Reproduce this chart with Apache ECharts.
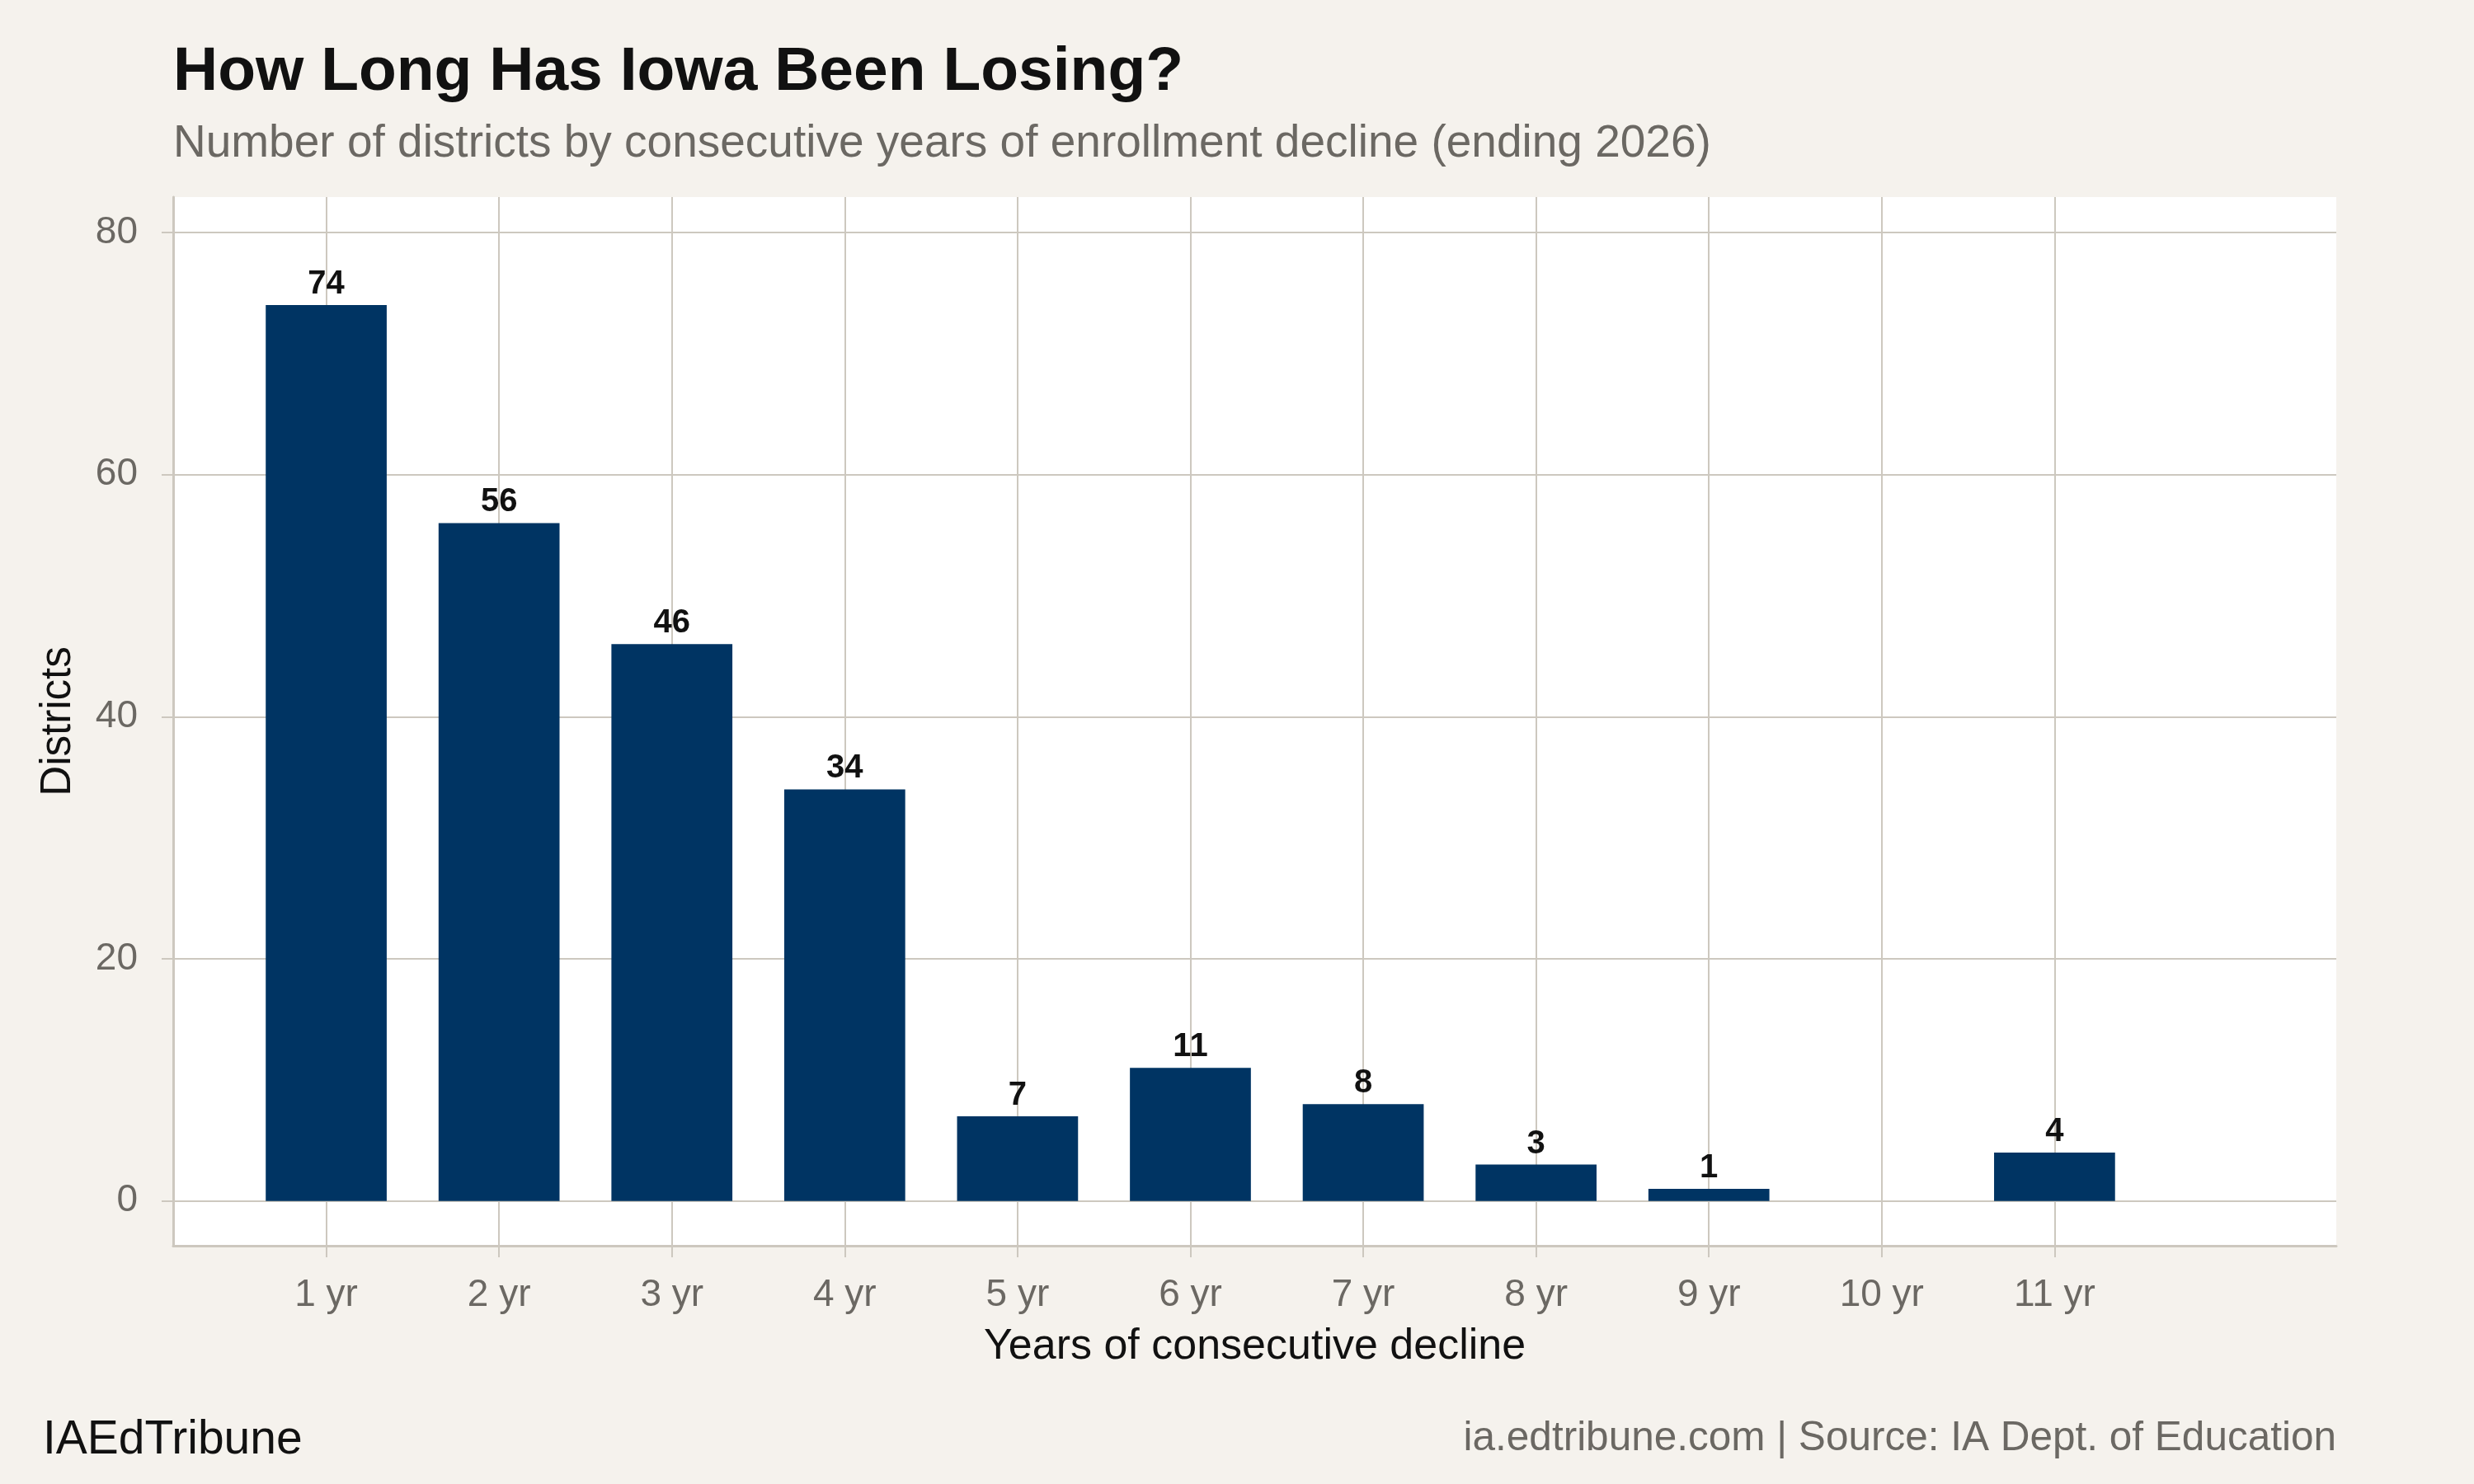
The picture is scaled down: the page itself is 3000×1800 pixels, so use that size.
<!DOCTYPE html>
<html>
<head>
<meta charset="utf-8">
<script src="https://cdn.jsdelivr.net/npm/echarts@6/dist/echarts.min.js"></script>
<style>
html,body{margin:0;padding:0;background:#f5f2ed;}
#chart{width:3000px;height:1800px;}
</style>
</head>
<body>
<div id="chart"></div>
<script>
// ---- data ----
const years = [1, 2, 3, 4, 5, 6, 7, 8, 9, 11];
const districts = [74, 56, 46, 34, 7, 11, 8, 3, 1, 4];
const xTicks = [1, 2, 3, 4, 5, 6, 7, 8, 9, 10, 11];
const yTicks = [0, 20, 40, 60, 80];

const titleText = 'How Long Has Iowa Been Losing?';
const subtitleText = 'Number of districts by consecutive years of enrollment decline (ending 2026)';
const xTitle = 'Years of consecutive decline';
const yTitle = 'Districts';
const brandText = 'IAEdTribune';
const sourceText = 'ia.edtribune.com | Source: IA Dept. of Education';

const FONT = "'Liberation Sans', Arial, Helvetica, sans-serif";
const GRID = '#cdc8bf';
const GRAY = '#6b6863';

const chart = echarts.init(document.getElementById('chart'), null, {renderer: 'canvas'});

const option = {
  backgroundColor: '#f5f2ed',
  animation: false,
  textStyle: {fontFamily: FONT},
  grid: {
    left: 210, right: 167, top: 239, bottom: 289,
    show: true, backgroundColor: '#ffffff', borderWidth: 0,
    containLabel: false
  },
  xAxis: {
    type: 'value',
    min: 0.1145, max: 12.63,
    axisLine: {show: true, onZero: false, lineStyle: {color: GRID, width: 3}},
    axisTick: {show: true, customValues: xTicks, length: 14, lineStyle: {color: GRID, width: 2}},
    axisLabel: {
      customValues: xTicks, margin: 37, fontSize: 46, color: GRAY, fontFamily: FONT,
      formatter: v => v + ' yr'
    },
    splitLine: {show: true, lineStyle: {color: GRID, width: 2}}
  },
  yAxis: {
    type: 'value',
    min: -3.7, max: 82.93,
    axisLine: {show: true, onZero: false, lineStyle: {color: GRID, width: 3}},
    axisTick: {show: true, customValues: yTicks, length: 14, lineStyle: {color: GRID, width: 2}},
    axisLabel: {customValues: yTicks, margin: 43, fontSize: 46, color: GRAY, fontFamily: FONT},
    splitLine: {show: true, lineStyle: {color: GRID, width: 2}}
  },
  series: [{
    type: 'bar',
    data: years.map((y, i) => [y, districts[i]]),
    barWidth: 146.7,
    itemStyle: {color: '#003463'},
    label: {
      show: true, position: 'top', distance: 5,
      fontSize: 40, fontWeight: 'bold', color: '#111111', fontFamily: FONT,
      formatter: p => p.value[1]
    }
  }],
  graphic: [
    {type: 'text', x: 210, y: 88.5, style: {text: titleText, font: 'bold 75px ' + FONT, fill: '#111111', align: 'left', verticalAlign: 'middle'}},
    {type: 'text', x: 210, y: 175, style: {text: subtitleText, font: '55px ' + FONT, fill: GRAY, align: 'left', verticalAlign: 'middle'}},
    {type: 'text', x: 1521.5, y: 1634, style: {text: xTitle, font: '52px ' + FONT, fill: '#111111', align: 'center', verticalAlign: 'middle'}},
    {type: 'text', x: 71.3, y: 875, rotation: Math.PI / 2, style: {text: yTitle, font: '51px ' + FONT, fill: '#111111', align: 'center', verticalAlign: 'middle'}},
    {type: 'text', x: 52, y: 1747, style: {text: brandText, font: '57px ' + FONT, fill: '#111111', align: 'left', verticalAlign: 'middle'}},
    {type: 'text', x: 2833, y: 1745, style: {text: sourceText, font: '49.5px ' + FONT, fill: GRAY, align: 'right', verticalAlign: 'middle'}}
  ]
};
chart.setOption(option);
</script>
</body>
</html>
